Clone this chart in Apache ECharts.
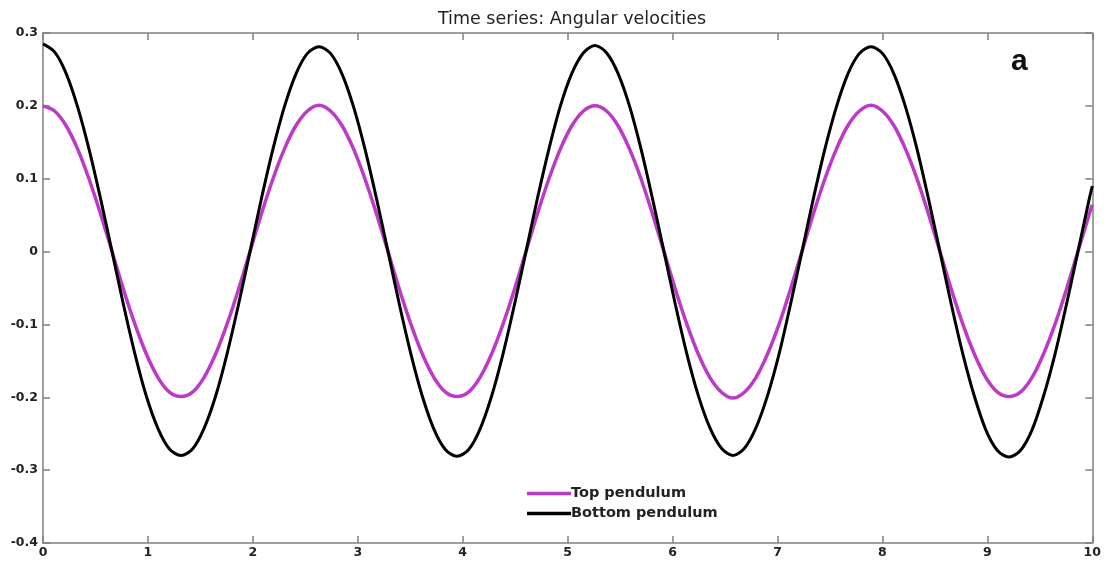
<!DOCTYPE html>
<html>
<head>
<meta charset="utf-8">
<script src="https://cdn.jsdelivr.net/npm/echarts@6/dist/echarts.min.js"></script>
<style>html,body{margin:0;padding:0;background:#fff;}#c{width:1104px;height:563px;}</style>
</head>
<body>
<div id="c"></div>
<script>
var times = [0,0.110,0.219,0.329,0.438,0.548,0.658,0.767,0.877,0.986,1.096,1.205,1.315,1.425,1.534,1.644,1.753,1.863,1.973,2.082,2.192,2.301,2.411,2.520,
  2.630,2.740,2.849,2.959,3.068,3.178,3.288,3.397,3.507,3.616,3.726,3.836,3.945,4.055,4.164,4.274,4.383,4.493,4.603,4.712,4.822,4.931,5.041,5.151,
  5.260,5.370,5.479,5.589,5.699,5.808,5.918,6.027,6.137,6.246,6.356,6.466,6.575,6.685,6.794,6.904,7.014,7.123,7.233,7.342,7.452,7.562,7.671,7.781,
  7.890,8.000,8.109,8.219,8.329,8.438,8.548,8.657,8.767,8.877,8.986,9.096,9.205,9.315,9.425,9.534,9.644,9.753,9.863,9.972,10.0];
var topPendulum = [0.200,0.193,0.173,0.141,0.100,0.052,0.000,-0.052,-0.100,-0.141,-0.173,-0.193,-0.199,-0.193,-0.173,-0.141,-0.100,-0.052,0.000,0.052,0.100,0.141,0.173,0.193,
  0.201,0.193,0.173,0.141,0.100,0.052,0.000,-0.052,-0.100,-0.141,-0.173,-0.193,-0.199,-0.193,-0.173,-0.141,-0.100,-0.052,0.000,0.052,0.100,0.141,0.173,0.193,
  0.200,0.193,0.173,0.141,0.100,0.052,0.000,-0.052,-0.100,-0.141,-0.173,-0.193,-0.201,-0.193,-0.173,-0.141,-0.100,-0.052,0.000,0.052,0.100,0.141,0.173,0.193,
  0.201,0.193,0.173,0.141,0.100,0.052,0.000,-0.052,-0.100,-0.141,-0.173,-0.193,-0.199,-0.193,-0.173,-0.141,-0.100,-0.052,0.000,0.052,0.064];
var bottomPendulum = [0.285,0.274,0.245,0.199,0.141,0.073,0.000,-0.073,-0.141,-0.199,-0.243,-0.271,-0.280,-0.271,-0.243,-0.199,-0.141,-0.073,0.000,0.073,0.141,0.199,0.244,0.272,
  0.281,0.272,0.244,0.199,0.141,0.073,0.000,-0.073,-0.141,-0.199,-0.244,-0.272,-0.281,-0.272,-0.244,-0.199,-0.141,-0.073,0.000,0.073,0.141,0.200,0.245,0.273,
  0.283,0.273,0.245,0.200,0.141,0.073,0.000,-0.073,-0.141,-0.198,-0.242,-0.270,-0.280,-0.270,-0.242,-0.198,-0.141,-0.073,0.000,0.073,0.141,0.199,0.244,0.272,
  0.281,0.272,0.244,0.199,0.141,0.073,0.000,-0.073,-0.141,-0.199,-0.245,-0.273,-0.282,-0.273,-0.245,-0.199,-0.141,-0.073,0.000,0.073,0.090];
var xTicks = [0,1,2,3,4,5,6,7,8,9,10];
var yTicks = [-0.4,-0.3,-0.2,-0.1,0,0.1,0.2,0.3];

function pairs(ys){ return times.map(function(t,i){ return [t, ys[i]]; }); }

var chart = echarts.init(document.getElementById('c'), null, {renderer:'canvas'});
var axisLineStyle = {color:'#808080', width:1.5};
var FONT = 'DejaVu Sans, Liberation Sans, Arial';
var labelStyle = {color:'#222', fontFamily:FONT, fontWeight:'bold', fontSize:12.5};
chart.setOption({
  animation:false,
  backgroundColor:'#fff',
  title:{text:'Time series: Angular velocities', left:567, textAlign:'center', top:5,
    textStyle:{fontFamily:FONT, fontSize:17.5, fontWeight:'normal', color:'#222'}},
  grid:{left:43, right:11, top:33, bottom:20, containLabel:false},
  legend:{orient:'vertical', left:522, top:481, itemWidth:44, itemHeight:3.5, itemGap:5,
    icon:'rect',
    textStyle:{fontFamily:FONT, fontSize:14.5, fontWeight:'bold', color:'#222', padding:[0,0,0,-5]},
    data:['Top pendulum','Bottom pendulum']},
  graphic:[{type:'text', left:1011, top:47, style:{text:'a', font:'bold 30px Liberation Sans, Arial', fill:'#111'}}],
  xAxis:[
    {type:'value', min:xTicks[0], max:xTicks[xTicks.length-1], interval:1, position:'bottom',
     axisLine:{show:true, onZero:false, lineStyle:axisLineStyle}, axisTick:{show:true, inside:true, length:7, lineStyle:axisLineStyle},
     axisLabel:Object.assign({margin:3}, labelStyle), splitLine:{show:false}},
    {type:'value', min:xTicks[0], max:xTicks[xTicks.length-1], interval:1, position:'top',
     axisLine:{show:true, onZero:false, lineStyle:axisLineStyle}, axisTick:{show:true, inside:true, length:7, lineStyle:axisLineStyle},
     axisLabel:{show:false}, splitLine:{show:false}}
  ],
  yAxis:[
    {type:'value', min:yTicks[0], max:yTicks[yTicks.length-1], interval:0.1, position:'left',
     axisLine:{show:true, onZero:false, lineStyle:axisLineStyle}, axisTick:{show:true, inside:true, length:7, lineStyle:axisLineStyle},
     axisLabel:Object.assign({margin:5, formatter:function(v){ var r=Math.round(v*10)/10; return r===0?'0':r.toFixed(1);}}, labelStyle),
     splitLine:{show:false}},
    {type:'value', min:yTicks[0], max:yTicks[yTicks.length-1], interval:0.1, position:'right',
     axisLine:{show:true, onZero:false, lineStyle:axisLineStyle}, axisTick:{show:true, inside:true, length:7, lineStyle:axisLineStyle},
     axisLabel:{show:false}, splitLine:{show:false}}
  ],
  series:[
    {name:'Top pendulum', type:'line', data:pairs(topPendulum), smooth:0.3, showSymbol:false,
     lineStyle:{color:'#bd3ac8', width:3.5}, itemStyle:{color:'#bd3ac8'}},
    {name:'Bottom pendulum', type:'line', data:pairs(bottomPendulum), smooth:0.3, showSymbol:false,
     lineStyle:{color:'#000', width:3}, itemStyle:{color:'#000'}}
  ]
});
</script>
</body>
</html>
